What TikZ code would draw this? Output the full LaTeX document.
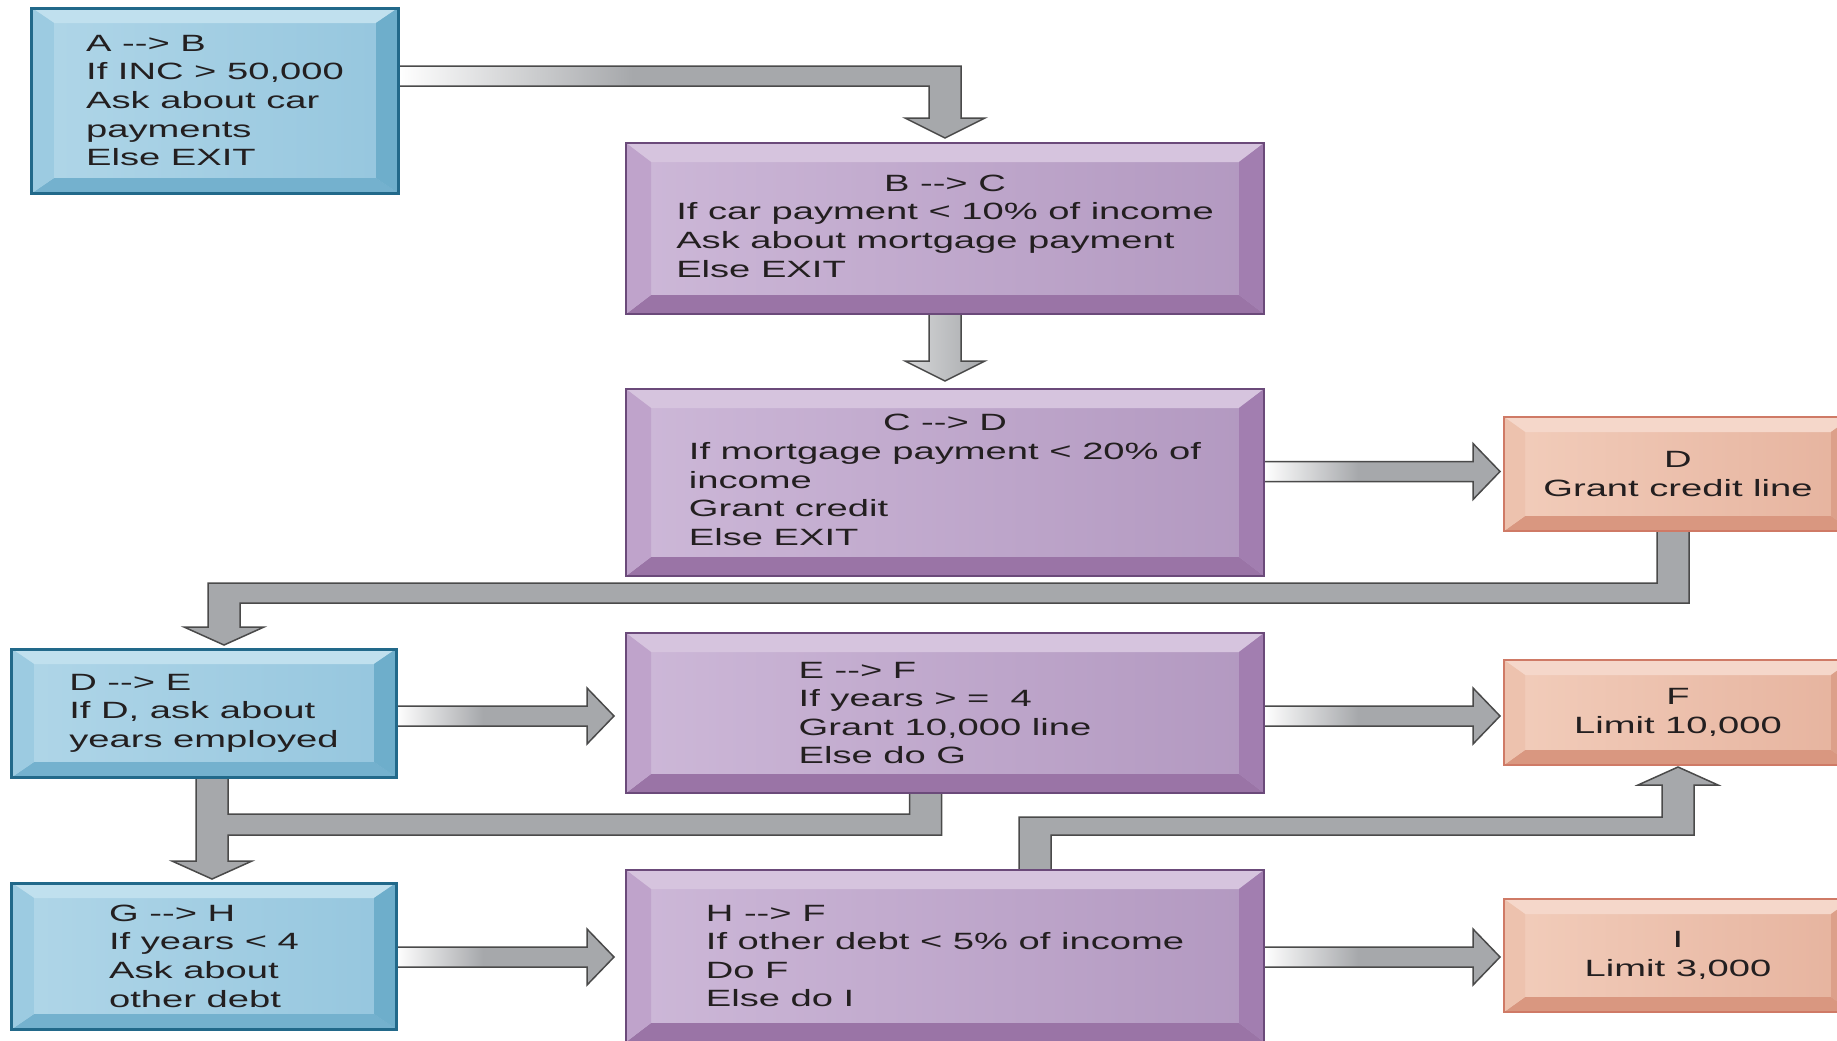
\documentclass[tikz,border=0pt]{standalone}
\usepackage{fontspec}
\newfontfamily\boxfont{Liberation Sans}[FakeStretch=1.62,Ligatures=TeXOff]
\usetikzlibrary{calc,backgrounds}

\definecolor{inkgray}{HTML}{231F20}
\definecolor{arrowgray}{HTML}{A6A8AB}
\definecolor{arrowline}{HTML}{4A4A4A}
% blue boxes
\definecolor{blueline}{HTML}{22698A}
\definecolor{bluetop}{HTML}{C0E0EE}
\definecolor{blueleft}{HTML}{9CCBE1}
\definecolor{bluelite}{HTML}{B0D6E8}
\definecolor{bluedark}{HTML}{95C6DE}
\definecolor{blueright}{HTML}{6EAECB}
\definecolor{bluebot}{HTML}{74B1CE}
% purple boxes
\definecolor{purpleline}{HTML}{6B4A7A}
\definecolor{purpletop}{HTML}{D6C4DE}
\definecolor{purpleleft}{HTML}{BFA3CB}
\definecolor{purplelite}{HTML}{CDB8D8}
\definecolor{purpledark}{HTML}{B298C0}
\definecolor{purpleright}{HTML}{A27EB0}
\definecolor{purplebot}{HTML}{9A74A6}
% salmon boxes
\definecolor{salmonline}{HTML}{CF7A66}
\definecolor{salmontop}{HTML}{F5D7CA}
\definecolor{salmonleft}{HTML}{EDC2AE}
\definecolor{salmonlite}{HTML}{F2CDBB}
\definecolor{salmondark}{HTML}{E6B39E}
\definecolor{salmonright}{HTML}{DCA08A}
\definecolor{salmonbot}{HTML}{D99780}

\pgfdeclarehorizontalshading{fadeh}{100bp}{color(0bp)=(white); color(25bp)=(white);
  color(45bp)=(arrowgray); color(100bp)=(arrowgray)}

\begin{document}
\begin{tikzpicture}[x=0.2mm,y=-0.2mm,
  every node/.style={font=\boxfont\fontsize{13.4pt}{16.3pt}\selectfont,text=inkgray,
    outer sep=0pt,inner sep=0pt},
  bevel/.style n args={3}{path picture={
    \path (path picture bounding box.north west) coordinate (pp-nw)
          (path picture bounding box.south east) coordinate (pp-se)
          (pp-nw -| pp-se) coordinate (pp-ne) (pp-nw |- pp-se) coordinate (pp-sw);
    \fill[#1top] (pp-nw) -- (pp-ne) -- ++(-#2,#3) -- ($(pp-nw)+(#2,#3)$) -- cycle;
    \fill[#1bot] (pp-sw) -- (pp-se) -- ++(-#2,-#3) -- ($(pp-sw)+(#2,-#3)$) -- cycle;
    \fill[#1left] (pp-nw) -- (pp-sw) -- ++(#2,-#3) -- ($(pp-nw)+(#2,#3)$) -- cycle;
    \fill[#1right] (pp-ne) -- (pp-se) -- ++(-#2,-#3) -- ($(pp-ne)+(-#2,#3)$) -- cycle;
  }},
  bluebox/.style={draw=blueline,line width=0.6mm,left color=bluelite,right color=bluedark,
    bevel={blue}{22}{15}},
  purplebox/.style={draw=purpleline,line width=0.4mm,left color=purplelite,right color=purpledark,
    bevel={purple}{25}{19}},
  salmonbox/.style={draw=salmonline,line width=0.4mm,left color=salmonlite,right color=salmondark,
    bevel={salmon}{21}{15},align=center},
  fatarrow/.style={draw=arrowline,line width=0.3mm,fill=arrowgray}]

  \useasboundingbox (0,0) rectangle (1837,1040);
  \clip (0,0) rectangle (1837,1040);

  % left column
  \node[bluebox,minimum width=73.2mm,minimum height=37mm,align=left] (ab) at (215,100.5)
    {A --> B\\If INC > 50,000\\Ask about car\\payments\\Else EXIT};
  \node[bluebox,minimum width=76.8mm,minimum height=25.6mm,align=left] (de) at (204,713)
    {D --> E\\If D, ask about\\years employed};
  \node[bluebox,minimum width=76.8mm,minimum height=29.2mm,align=left] (gh) at (204,956)
    {G --> H\\If years < 4\\Ask about\\other debt};

  % middle column
  \node[purplebox,minimum width=127.6mm,minimum height=34.2mm] (bc) at (945,228.5)
    {\begin{tabular}{@{}l@{}}\multicolumn{1}{@{}c@{}}{B --> C}\\If car payment < 10\% of income\\
     Ask about mortgage payment\\Else EXIT\end{tabular}};
  \node[purplebox,minimum width=127.6mm,minimum height=37.4mm] (cd) at (945,482.5)
    {\begin{tabular}{@{}l@{}}\multicolumn{1}{@{}c@{}}{C --> D}\\If mortgage payment < 20\% of\\
     income\\Grant credit\\Else EXIT\end{tabular}};
  \node[purplebox,minimum width=127.6mm,minimum height=32mm,align=left] (ef) at (945,713)
    {E --> F\\If years > =\ \ 4\\Grant 10,000 line\\Else do G};
  \node[purplebox,minimum width=127.6mm,minimum height=34.4mm,align=left] (hf) at (945,956)
    {H --> F\\If other debt < 5\% of income\\Do F\\Else do I};

  % right column
  \node[salmonbox,minimum width=69.6mm,minimum height=22.8mm] (d) at (1678,474)
    {D\\Grant credit line};
  \node[salmonbox,minimum width=69.6mm,minimum height=21mm] (f) at (1678,712.5)
    {F\\Limit 10,000};
  \node[salmonbox,minimum width=69.6mm,minimum height=22.6mm] (i) at (1678,955.5)
    {I\\Limit 3,000};

  \begin{scope}[on background layer]
    \fill[white] (0,0) rectangle (1837,1040);
    % ab -> bc
    \shadedraw[fatarrow,shading=fadeh] ($(ab.east)+(0,-34.5)$) -| ($(bc.north)+(16,-25)$)
      -- ++(24,0) -- ($(bc.north)+(0,-5)$) -- ++(-40,-20) -- ++(24,0)
      |- ($(ab.east)+(0,-14.5)$) -- cycle;
    % bc -> cd
    \shadedraw[fatarrow,left color=white!55!arrowgray,right color=arrowgray] ($(bc.south)+(-16,0)$)
      -- ++(32,0) -- ($(cd.north)+(16,-28)$) -- ++(24,0) -- ($(cd.north)+(0,-8)$)
      -- ++(-40,-20) -- ++(24,0) -- cycle;
    % cd -> d
    \shadedraw[fatarrow,shading=fadeh] ($(cd.east)+(0,-21)$) -- ($(d.west)+(-31,-12.5)$)
      -- ++(0,-18) -- ($(d.west)+(-4,-2.5)$) -- ++(-27,28) -- ++(0,-18)
      -- ($(cd.east)+(0,-1)$) -- cycle;
    % d -> de
    \filldraw[fatarrow] ($(d.south)+(11,0)$) |- ($(de.north)+(36,-46)$) -- ++(0,24)
      -- ++(24,0) -- ($(de.north)+(20,-4)$) -- ++(-40,-18) -- ++(24,0)
      |- ($(d.south)+(-21,52)$) -- ($(d.south)+(-21,0)$) -- cycle;
    % de -> ef
    \shadedraw[fatarrow,shading=fadeh] ($(de.east)+(0,-7)$) -- ($(ef.west)+(-39,-7)$)
      -- ++(0,-18) -- ($(ef.west)+(-12,3)$) -- ++(-27,28) -- ++(0,-18)
      -- ($(de.east)+(0,13)$) -- cycle;
    % ef -> f
    \shadedraw[fatarrow,shading=fadeh] ($(ef.east)+(0,-7)$) -- ($(f.west)+(-31,-6.5)$)
      -- ++(0,-18) -- ($(f.west)+(-4,3.5)$) -- ++(-27,28) -- ++(0,-18)
      -- ($(ef.east)+(0,13)$) -- cycle;
    % de, ef -> gh
    \filldraw[fatarrow] ($(de.south)+(-8,0)$) -- ++(32,0) |- ($(ef.south)+(-35.5,21)$)
      -- ++(0,-21) -- ++(32,0) |- ($(gh.north)+(24,-48)$) -- ++(0,26) -- ++(24,0)
      -- ($(gh.north)+(8,-4)$) -- ++(-40,-18) -- ++(24,0) -- cycle;
    % gh -> hf
    \shadedraw[fatarrow,shading=fadeh] ($(gh.east)+(0,-9)$) -- ($(hf.west)+(-39,-9)$)
      -- ++(0,-18) -- ($(hf.west)+(-12,1)$) -- ++(-27,28) -- ++(0,-18)
      -- ($(gh.east)+(0,11)$) -- cycle;
    % hf -> i
    \shadedraw[fatarrow,shading=fadeh] ($(hf.east)+(0,-9)$) -- ($(i.west)+(-31,-8.5)$)
      -- ++(0,-18) -- ($(i.west)+(-4,1.5)$) -- ++(-27,28) -- ++(0,-18)
      -- ($(hf.east)+(0,11)$) -- cycle;
    % hf -> f
    \filldraw[fatarrow] ($(hf.north)+(74,0)$) |- ($(f.south)+(-16,52)$) -- ++(0,-32)
      -- ++(-24,0) -- ($(f.south)+(0,2)$) -- ++(40,18) -- ++(-24,0)
      |- ($(hf.north)+(106,-35)$) -- ++(0,35) -- cycle;
  \end{scope}
\end{tikzpicture}
\end{document}
